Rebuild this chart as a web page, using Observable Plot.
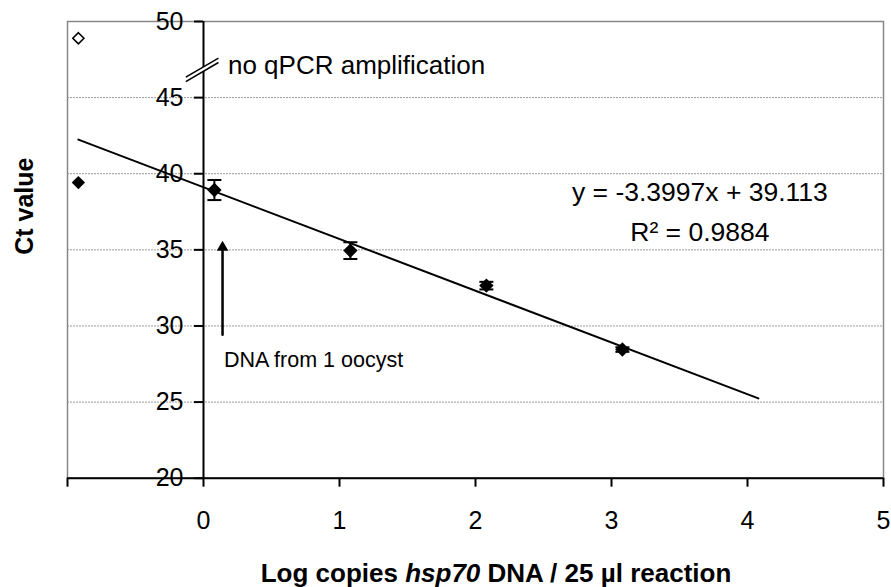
<!DOCTYPE html>
<html><head><meta charset="utf-8">
<script src="https://cdn.jsdelivr.net/npm/d3@7"></script>
<script src="https://cdn.jsdelivr.net/npm/@observablehq/plot@0.6"></script>
<style>
body{margin:0;background:#fff;font-family:"Liberation Sans",Arial,sans-serif;}
#wrap{position:relative;width:891px;height:587px;overflow:hidden;}
#xtitle{position:absolute;left:0;top:558px;width:891px;box-sizing:border-box;padding-left:101px;text-align:center;font-weight:bold;font-size:26px;line-height:30px;color:#000;}
</style></head><body><div id="wrap"></div><script>
// standard curve data
const logCopies = [0.08, 1.08, 2.08, 3.08];
const ctMean = [38.93, 34.95, 32.65, 28.45];
const ctErr = [0.66, 0.55, 0.25, 0.15];
// single oocyst (amplified) and no-amplification points
const lowX = [-0.92];
const lowCt = [39.42];
const noAmpX = [-0.92];
const noAmpCt = [48.9];
// trendline
const slope = -3.3997, intercept = 39.113;
const trendRange = [-0.92, 4.08];
// axes
const xTicks = [-1, 0, 1, 2, 3, 4, 5];
const yTicks = [20, 25, 30, 35, 40, 45, 50];
const gridY = [25, 30, 35, 40, 45];
// annotations
const breakMark = [{x1: -0.13, y1: 46.2, x2: 0.11, y2: 47.45}];
const arrowData = [{x: 0.14, y1: 29.43, y2: 35.6}];
const leftLabels = [
  {x: 0.18, y: 47.1, text: "no qPCR amplification", size: 26},
  {x: 0.15, y: 27.73, text: "DNA from 1 oocyst", size: 21.5}
];
const fitLabels = [
  {x: 3.65, y: 38.78, text: "y = -3.3997x + 39.113"},
  {x: 3.65, y: 36.16, text: "R² = 0.9884"}
];

const pts = logCopies.map((x, i) => ({x, y: ctMean[i], e: ctErr[i]}));
const trend = trendRange.map(x => ({x, y: slope * x + intercept}));

const capSymbol = {draw(ctx, size) { const r = Math.sqrt(size / Math.PI); ctx.moveTo(-r, 0); ctx.lineTo(r, 0); }};

const W = 891, H = 545, mL = 67, mR = 8, mT = 21, mB = 67.3;
const xDomain = [-1, 5];
const yShift = (W - mL - mR) / (xDomain[1] - xDomain[0]) * (0 - xDomain[0]);

const plot = Plot.plot({
  width: W, height: H,
  marginLeft: mL, marginRight: mR, marginTop: mT, marginBottom: mB,
  style: {fontFamily: "'Liberation Sans', Arial, sans-serif", background: "#fff", color: "#000", overflow: "visible"},
  x: {domain: xDomain},
  y: {domain: [20, 50]},
  marks: [
    Plot.ruleY(gridY, {stroke: "#999", strokeWidth: 1, strokeDasharray: "2,1"}),
    Plot.frame({stroke: "#888", strokeWidth: 1.5}),
    Plot.ruleY([20], {stroke: "#000", strokeWidth: 2}),
    Plot.ruleX([0], {stroke: "#000", strokeWidth: 2}),
    Plot.axisX({ticks: xTicks, tickFormat: d => d === -1 ? "" : String(d), tickSize: 9, tickPadding: 24, fontSize: 25, strokeWidth: 2, label: null}),
    Plot.axisY({ticks: yTicks, tickFormat: d => String(d), tickSize: 9, tickPadding: 11, fontSize: 25, strokeWidth: 2, dx: yShift, label: null}),
    Plot.text(["Ct value"], {frameAnchor: "left", dx: -43, dy: 5, rotate: -90, fontWeight: "bold", fontSize: 25, text: d => d}),
    // axis break mark
    Plot.link(breakMark, {x1: "x1", y1: "y1", x2: "x2", y2: "y2", stroke: "#fff", strokeWidth: 4}),
    Plot.link(breakMark, {x1: "x1", y1: "y1", x2: "x2", y2: "y2", stroke: "#000", strokeWidth: 1.5, dy: -2.2}),
    Plot.link(breakMark, {x1: "x1", y1: "y1", x2: "x2", y2: "y2", stroke: "#000", strokeWidth: 1.5, dy: 2.2}),
    // trendline
    Plot.line(trend, {x: "x", y: "y", stroke: "#000", strokeWidth: 2}),
    // error bars
    Plot.ruleX(pts, {x: "x", y1: d => d.y - d.e, y2: d => d.y + d.e, stroke: "#000", strokeWidth: 2}),
    Plot.dot(pts, {x: "x", y: d => d.y - d.e, symbol: capSymbol, r: 7, stroke: "#000", strokeWidth: 2, fill: "none"}),
    Plot.dot(pts, {x: "x", y: d => d.y + d.e, symbol: capSymbol, r: 7, stroke: "#000", strokeWidth: 2, fill: "none"}),
    // points
    Plot.dot(pts, {x: "x", y: "y", symbol: "diamond2", r: 6.5, fill: "#000", stroke: "none"}),
    Plot.dot(lowX.map((x, i) => ({x, y: lowCt[i]})), {x: "x", y: "y", symbol: "diamond2", r: 6, fill: "#000", stroke: "none"}),
    Plot.dot(noAmpX.map((x, i) => ({x, y: noAmpCt[i]})), {x: "x", y: "y", symbol: "diamond2", r: 5, fill: "#fff", stroke: "#000", strokeWidth: 1.6}),
    // arrow
    Plot.arrow(arrowData, {x1: "x", y1: "y1", x2: "x", y2: "y2", headLength: 0, insetEnd: 6, stroke: "#000", strokeWidth: 2.5}),
    Plot.dot(arrowData, {x: "x", y: "y2", symbol: "triangle", r: 4.3, dy: 6.7, fill: "#000", stroke: "none"}),
    // texts
    Plot.text(leftLabels, {x: "x", y: "y", text: "text", fontSize: "size", textAnchor: "start", fill: "#000"}),
    Plot.text(fitLabels, {x: "x", y: "y", text: "text", fontSize: 26.5, textAnchor: "middle", fill: "#000"})
  ]
});
const wrap = document.getElementById("wrap");
wrap.appendChild(plot);
const xt = document.createElement("div");
xt.id = "xtitle";
xt.innerHTML = "Log copies <i>hsp70</i> DNA / 25 µl reaction";
wrap.appendChild(xt);
</script></body></html>
